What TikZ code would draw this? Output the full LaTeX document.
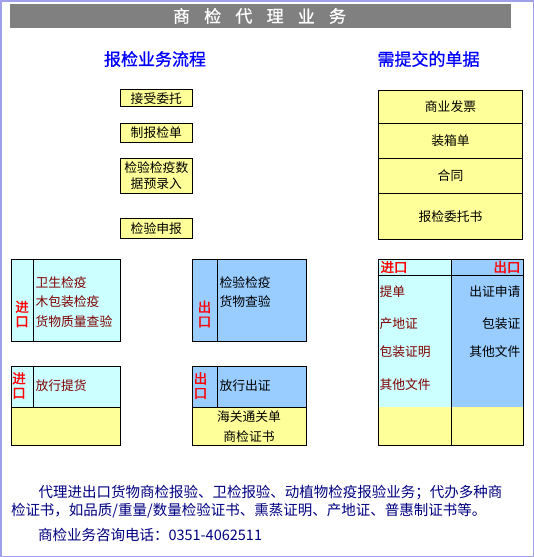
\documentclass[tikz,border=0pt]{standalone}
\usepackage{fontspec}
\setmainfont{Noto Sans CJK SC}
\newfontfamily\cjkbf{Noto Sans CJK SC}[FakeBold=1.5]
\newfontfamily\cjkmid{Noto Sans CJK SC}[FakeBold=0.8]
\usetikzlibrary{positioning}
\definecolor{paleyellow}{HTML}{FFFF99}
\definecolor{palecyan}{HTML}{CCFFFF}
\definecolor{paleblue}{HTML}{99CCFF}
\definecolor{titlegray}{HTML}{808080}
\definecolor{framelav}{HTML}{A0A0E8}
\definecolor{darkred}{HTML}{800000}
\definecolor{navytext}{HTML}{000080}

\begin{document}
\begin{tikzpicture}[x=1pt,y=-1pt,line width=1pt,inner sep=0pt,
    stepbox/.style={draw,fill=paleyellow,outer sep=0pt,minimum width=72pt,align=center,font=\fontsize{12.8}{16}\selectfont},
    docrow/.style={draw,fill=paleyellow,outer sep=0pt,minimum width=144.4pt,font=\fontsize{12.8}{16}\selectfont},
    portmark/.style={red,align=center,font=\cjkbf\fontsize{13.5}{14.5}\selectfont},
    importtext/.style={darkred,align=left,font=\fontsize{12.8}{19.5}\selectfont},
    exporttext/.style={black,align=left,font=\fontsize{12.8}{19.5}\selectfont},
    heading/.style={blue,font=\cjkmid\fontsize{17}{17}\selectfont},
    notetext/.style={navytext,anchor=west,font=\fontsize{14.5}{18}\selectfont}]
  \useasboundingbox (0,0) rectangle (534,557);
  \draw[framelav,line width=1.5pt] (0.75,0.75) rectangle (533.25,556.25);
  % title bar
  \node[fill=titlegray,minimum width=501pt,minimum height=24pt] (title) at (260.5,16) {};
  \foreach \c [count=\i from 0] in {商,检,代,理,业,务}
    \node[white,font=\cjkmid\fontsize{17}{17}\selectfont] (title-\i) at (181.5+31.2*\i,16) {\c};
  \node[heading] (flow) at (155,59) {报检业务流程};
  \node[heading] (papers) at (428.5,59) {需提交的单据};
  % process steps
  \node[stepbox,minimum height=16.7pt] (entrust) at (156.3,98.3) {接受委托};
  \node[stepbox,minimum height=19pt] (form) at (156.3,132.8) {制报检单};
  \node[stepbox,minimum height=34.7pt] (entry) at (156.3,176) {检验检疫数\\据预录入};
  \node[stepbox,minimum height=19.7pt] (declare) at (156.3,228.5) {检验申报};
  % documents
  \node[docrow,minimum height=33.3pt,anchor=north] (invoice) at (450.5,90) {商业发票};
  \node[docrow,minimum height=35.4pt,below=0pt of invoice] (packing) {装箱单};
  \node[docrow,minimum height=34.6pt,below=0pt of packing] (contract) {合同};
  \node[docrow,minimum height=46pt,below=0pt of contract] (proxy) {报检委托书};
  % inspection boxes
  \fill[palecyan] (11,259) rectangle (120,341);
  \fill[paleblue] (192,259) rectangle (306,341);
  \fill[palecyan] (11,366) rectangle (120,407);
  \fill[paleyellow] (11,407) rectangle (120,445);
  \fill[paleblue] (192,366) rectangle (306,407);
  \fill[paleyellow] (192,407) rectangle (306,445);
  \draw (11,259) rectangle (120,341) (33,259) -- (33,341);
  \draw (192,259) rectangle (306,341) (217,259) -- (217,341);
  \draw (11,366) rectangle (120,445) (33,366) -- (33,407) (11,407) -- (120,407);
  \draw (192,366) rectangle (306,445) (217,366) -- (217,407) (192,407) -- (306,407);
  \node[portmark] (imp1-mark) at (22,314) {进\\口};
  \node[importtext,anchor=west] (imp1-list) at (35,302) {卫生检疫\\木包装检疫\\货物质量查验};
  \node[portmark] (exp1-mark) at (204.5,314) {出\\口};
  \node[exporttext,anchor=west] (exp1-list) at (219,292) {检验检疫\\货物查验};
  \node[portmark] (imp2-mark) at (19,385.5) {进\\口};
  \node[importtext,anchor=west] (imp2-text) at (35,386) {放行提货};
  \node[portmark] (exp2-mark) at (200.5,385.5) {出\\口};
  \node[exporttext,anchor=west] (exp2-text) at (219,386) {放行出证};
  \node[exporttext,align=center] (exp2-cert) at (249,426.5) {海关通关单\\商检证书};
  % document table
  \fill[palecyan] (378,259) rectangle (451,407);
  \fill[paleblue] (451,259) rectangle (523,407);
  \fill[paleyellow] (378,407) rectangle (523,445);
  \draw (378,259) rectangle (523,445) (451,259) -- (451,445) (378,275) -- (523,275);
  \node[portmark,anchor=west] (imp-head) at (380,267) {进口};
  \node[portmark,anchor=east] (exp-head) at (521,267) {出口};
  \foreach \t/\y [count=\i] in {提单/292,产地证/324,包装证明/352,其他文件/385}
    \node[importtext,anchor=west] (imp-doc-\i) at (379,\y) {\t};
  \foreach \t/\y [count=\i] in {出证申请/292,包装证/324,其他文件/352}
    \node[exporttext,anchor=east] (exp-doc-\i) at (521,\y) {\t};
  % notes
  \node[notetext] (note-1) at (38,493) {代理进出口货物商检报验、卫检报验、动植物检疫报验业务；代办多种商};
  \node[notetext] (note-2) at (10.5,511) {检证书，如品质/重量/数量检验证书、熏蒸证明、产地证、普惠制证书等。};
  \node[notetext] (note-3) at (37.5,535) {商检业务咨询电话：0351-4062511};
\end{tikzpicture}
\end{document}
